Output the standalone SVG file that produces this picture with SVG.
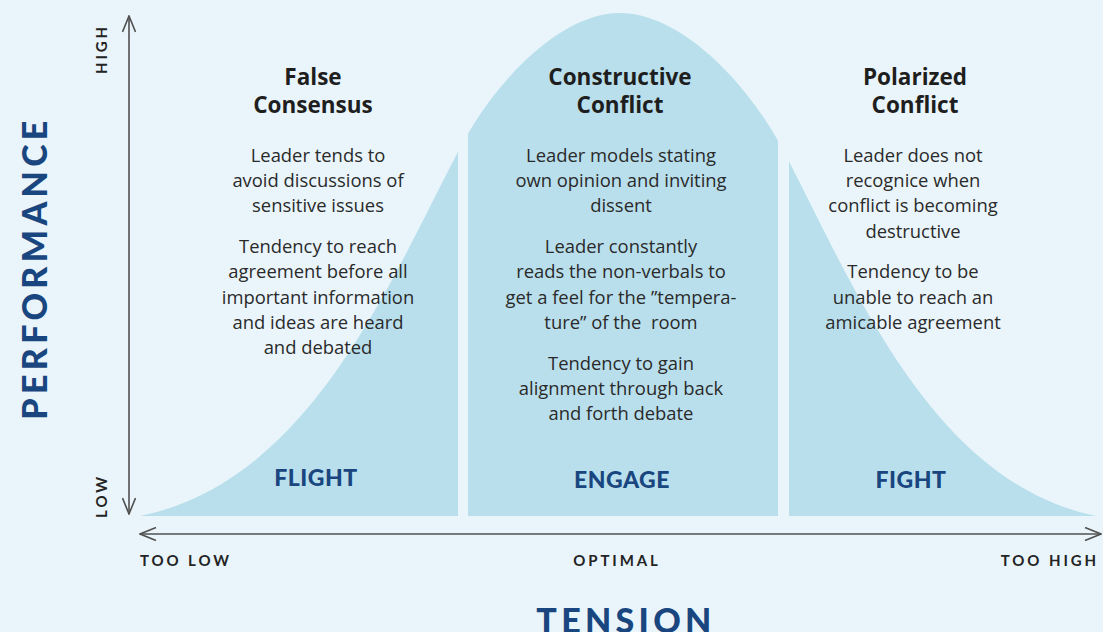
<svg xmlns="http://www.w3.org/2000/svg" xmlns:xlink="http://www.w3.org/1999/xlink" width="1103" height="632" viewBox="0 0 1103 632">
  <style>
    .bg { fill: #e9f5fa; }
    .bell { fill: #b9dfec; }
    .head { font-family: "Open Sans", Lato, sans-serif; font-weight: 700; font-size: 22.5px; fill: #1e1e1e; text-anchor: middle; }
    .body { font-family: "Open Sans", Lato, sans-serif; font-weight: 400; font-size: 18.4px; fill: #2a2a2a; text-anchor: middle; }
    .zone { font-family: Lato, "Open Sans", sans-serif; font-weight: 900; font-size: 23px; fill: #1a4680; text-anchor: middle; letter-spacing: 0.5px; }
    .axis-title { font-family: Lato, "Open Sans", sans-serif; font-weight: 900; font-size: 34px; fill: #1a4680; text-anchor: middle; letter-spacing: 4.3px; }
    .tick { font-family: Lato, "Open Sans", sans-serif; font-weight: 700; font-size: 15px; fill: #242424; letter-spacing: 2.9px; }
    .axis { stroke: #505050; stroke-width: 1.6; fill: none; }
  </style>
  <defs>
    <!-- bell-shaped curve of performance over tension -->
    <path id="bell" d="M140,516 C310,482 390,281 460,148 C495,81.5 560,13 620,13 C680,13 747,81.5 782,148 C852,281 930,482 1096,516 Z"/>
    <clipPath id="clip-left"><rect x="0" y="0" width="458" height="516"/></clipPath>
    <clipPath id="clip-mid"><rect x="468" y="0" width="310" height="516"/></clipPath>
    <clipPath id="clip-right"><rect x="789" y="0" width="314" height="516"/></clipPath>
    <marker id="chev" viewBox="0 0 18 14" refX="17" refY="7" markerWidth="18" markerHeight="14" markerUnits="userSpaceOnUse" orient="auto-start-reverse">
      <path d="M1,0.5 L17,7 L1,13.5" fill="none" stroke="#505050" stroke-width="1.6"/>
    </marker>
  </defs>

  <rect class="bg" x="0" y="0" width="1103" height="632"/>

  <!-- Flight zone -->
  <g id="flight">
    <use xlink:href="#bell" class="bell" clip-path="url(#clip-left)"/>
    <text class="head" x="313" y="85">False</text>
    <text class="head" x="313" y="113">Consensus</text>
    <text class="body" x="318" y="162">Leader tends to</text>
    <text class="body" x="318" y="187">avoid discussions of</text>
    <text class="body" x="318" y="212">sensitive issues</text>
    <text class="body" x="318" y="253">Tendency to reach</text>
    <text class="body" x="318" y="278">agreement before all</text>
    <text class="body" x="318" y="304">important information</text>
    <text class="body" x="318" y="329">and ideas are heard</text>
    <text class="body" x="318" y="354">and debated</text>
    <text class="zone" x="316" y="486">FLIGHT</text>
  </g>

  <!-- Engage zone -->
  <g id="engage">
    <use xlink:href="#bell" class="bell" clip-path="url(#clip-mid)"/>
    <text class="head" x="620" y="85">Constructive</text>
    <text class="head" x="620" y="113">Conflict</text>
    <text class="body" x="621" y="162">Leader models stating</text>
    <text class="body" x="621" y="187">own opinion and inviting</text>
    <text class="body" x="621" y="212">dissent</text>
    <text class="body" x="621" y="253">Leader constantly</text>
    <text class="body" x="621" y="278">reads the non-verbals to</text>
    <text class="body" x="621" y="304">get a feel for the ”tempera-</text>
    <text class="body" x="621" y="329" xml:space="preserve">ture” of the  room</text>
    <text class="body" x="621" y="370">Tendency to gain</text>
    <text class="body" x="621" y="395">alignment through back</text>
    <text class="body" x="621" y="420">and forth debate</text>
    <text class="zone" x="622" y="488">ENGAGE</text>
  </g>

  <!-- Fight zone -->
  <g id="fight">
    <use xlink:href="#bell" class="bell" clip-path="url(#clip-right)"/>
    <text class="head" x="915" y="85">Polarized</text>
    <text class="head" x="915" y="113">Conflict</text>
    <text class="body" x="913" y="162">Leader does not</text>
    <text class="body" x="913" y="187">recognice when</text>
    <text class="body" x="913" y="212">conflict is becoming</text>
    <text class="body" x="913" y="238">destructive</text>
    <text class="body" x="913" y="278">Tendency to be</text>
    <text class="body" x="913" y="304">unable to reach an</text>
    <text class="body" x="913" y="329">amicable agreement</text>
    <text class="zone" x="911" y="488">FIGHT</text>
  </g>

  <!-- axes -->
  <g id="axes">
    <line class="axis" x1="129" y1="16" x2="129" y2="514" marker-start="url(#chev)" marker-end="url(#chev)"/>
    <line class="axis" x1="140" y1="534" x2="1101" y2="534" marker-start="url(#chev)" marker-end="url(#chev)"/>
  </g>

  <g id="axis-labels">
    <text class="tick" x="0" y="0" text-anchor="middle" transform="translate(107,49) rotate(-90)">HIGH</text>
    <text class="tick" x="0" y="0" text-anchor="middle" transform="translate(107,496) rotate(-90)">LOW</text>
    <text class="tick" x="140" y="566">TOO LOW</text>
    <text class="tick" x="617" y="566" text-anchor="middle">OPTIMAL</text>
    <text class="tick" x="1099" y="566" text-anchor="end">TOO HIGH</text>
    <text class="axis-title" x="0" y="0" transform="translate(47,268) rotate(-90)">PERFORMANCE</text>
    <text class="axis-title" x="626" y="633">TENSION</text>
  </g>
</svg>
